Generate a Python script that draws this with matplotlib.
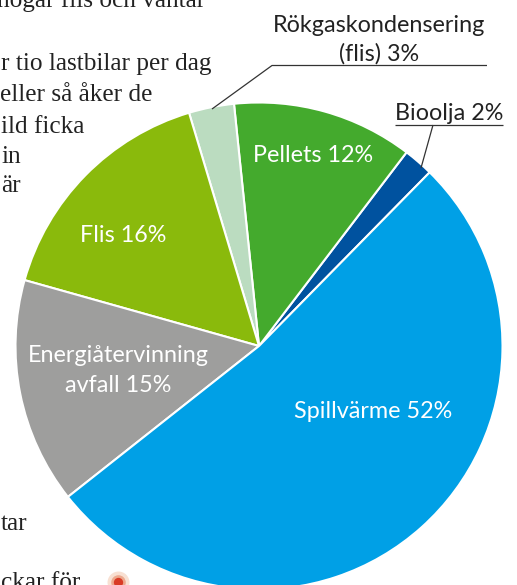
import matplotlib
matplotlib.use("Agg")
import matplotlib.pyplot as plt

W, H = 517, 585
values = [2, 12, 3, 16, 15, 52]
names = ["Bioolja", "Pellets", "Rökgaskondensering", "Flis", "Energiåtervinning", "Spillvärme"]
colors = ["#00529F", "#44AA2D", "#BBDCC0", "#8ABA0C", "#9E9E9D", "#00A0E6"]

body_lines = ["hogar flis och väntar", "r tio lastbilar per dag", "eller så åker de", "ild ficka", "in", "är", "tar", "ckar för"]
body_x = [-3, 1, 0, 1, 1, 1, 1, 1]
body_y = [1, 64, 95, 127, 157, 186, 524, 583]

fig = plt.figure(figsize=(W / 100, H / 100), dpi=100)
ax = fig.add_axes([0, 0, 1, 1])


def Y(y):
    return H - y


cx, cy, r = 259, 346, 243.5
ax.pie(values, colors=colors, startangle=45.5, counterclock=True, center=(cx, Y(cy)), radius=r,
       wedgeprops=dict(edgecolor="white", linewidth=1.5), frame=True)
ax.set_xlim(0, W)
ax.set_ylim(0, H)
ax.set_aspect("equal")
ax.axis("off")

serif = dict(family="Liberation Serif", fontsize=18.2, color="#222222", va="center", ha="left")
for s, x, y in zip(body_lines, body_x, body_y):
    ax.text(x, Y(y), s, **serif)

sans = dict(family="Lato", fontsize=16.8, weight="normal", ha="center", va="center")
ax.text(379, Y(25), "Rökgaskondensering", color="#222222", **sans)
ax.text(379, Y(54), "(flis) 3%", color="#222222", **sans)
ax.text(449, Y(113), "Bioolja 2%", color="#222222", **sans)
ax.text(313, Y(155), "Pellets 12%", color="white", **sans)
ax.text(123, Y(236), "Flis 16%", color="white", **sans)
ax.text(118, Y(356), "Energiåtervinning", color="white", **sans)
ax.text(118, Y(386), "avfall 15%", color="white", **sans)
ax.text(373, Y(411), "Spillvärme 52%", color="white", **sans)

line = dict(color="#333333", lw=0.9, solid_capstyle="butt")
ax.plot([212, 272, 487], [Y(109), Y(65.5), Y(65.5)], **line)
ax.plot([395, 503], [Y(125), Y(125)], **line)
ax.plot([433, 421], [Y(125), Y(168)], **line)

ax.scatter([118], [Y(582)], s=250, color="#F8E0D2", linewidths=0)
ax.scatter([118], [Y(582)], s=110, color="#EDA98E", linewidths=0)
ax.scatter([118], [Y(582)], s=45, color="#D93A25", linewidths=0)

fig.savefig("out.png", dpi=100)
